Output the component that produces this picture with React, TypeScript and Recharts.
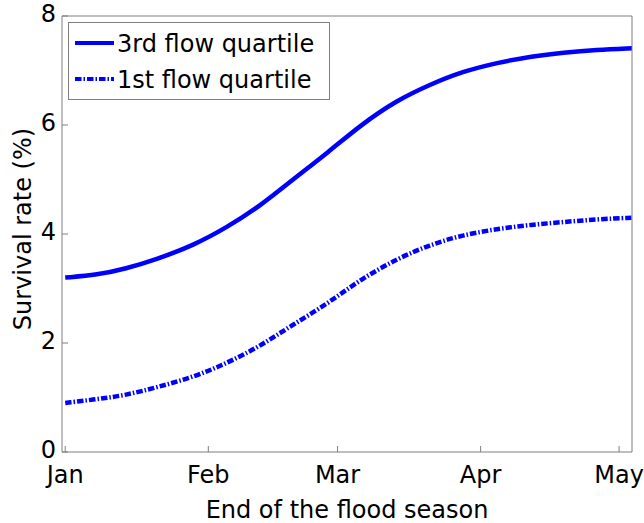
import { LineChart, Line, XAxis, YAxis, Legend } from 'recharts';

// day of year (Jan 1 = 0) at which the flood season ends
const days = [0, 7, 13, 20, 28, 35, 42, 49, 57, 64, 72, 79, 86, 94, 101, 108, 115, 123];
// survival rate (%) for each end date
const thirdQuartile = [3.2, 3.25, 3.36, 3.54, 3.8, 4.12, 4.5, 4.98, 5.5, 6.0, 6.46, 6.74, 6.98, 7.15, 7.26, 7.33, 7.38, 7.41];
const firstQuartile = [0.9, 0.97, 1.04, 1.19, 1.38, 1.63, 1.93, 2.32, 2.73, 3.17, 3.55, 3.8, 3.98, 4.1, 4.17, 4.22, 4.27, 4.3];

const monthTicks = [0, 31, 59, 90, 120];
const monthLabels = ['Jan', 'Feb', 'Mar', 'Apr', 'May'];
const rateTicks = [0, 2, 4, 6, 8];

const series = [
  { key: 'third', name: '3rd flow quartile', dash: undefined as string | undefined },
  { key: 'first', name: '1st flow quartile', dash: '6.5 2 1.5 2' },
];

const data = days.map((d, i) => ({ day: d, third: thirdQuartile[i], first: firstQuartile[i] }));

const BLUE = '#0000ff';
const FRAME = '#7f7f7f';
const FONT = 'DejaVu Sans';
const xDomain = [-0.7, 122.8];

function renderLegend() {
  return (
    <svg width={262} height={78} style={{ display: 'block' }}>
      <rect x={0.5} y={0.5} width={261} height={77} fill="#fff" stroke={FRAME} />
      {series.map((s, i) => (
        <g key={s.key}>
          <line x1={7} x2={46} y1={21 + i * 36} y2={21 + i * 36} stroke={BLUE} strokeWidth={4} strokeDasharray={s.dash} />
          <text x={49} y={30 + i * 36} fontSize={24} fontFamily={FONT} fill="#000">{s.name}</text>
        </g>
      ))}
    </svg>
  );
}

export default function App() {
  return (
    <div style={{ position: 'absolute', left: 0, top: 0, background: '#fff' }}>
      <LineChart width={644} height={523} data={data} margin={{ top: 15, right: 11, bottom: 0, left: 0 }} style={{ fontFamily: FONT }}>
        <XAxis
          xAxisId="bottom"
          dataKey="day"
          type="number"
          domain={xDomain}
          allowDataOverflow
          ticks={monthTicks}
          tickFormatter={(v) => monthLabels[monthTicks.indexOf(v)] ?? ''}
          height={71}
          stroke={FRAME}
          tickSize={-6}
          tickMargin={20}
          tick={{ fill: '#000', fontSize: 24 }}
          label={{ value: 'End of the flood season', position: 'insideBottom', offset: 5, fill: '#000', fontSize: 24 }}
        />
        <XAxis
          xAxisId="top"
          orientation="top"
          dataKey="day"
          type="number"
          domain={xDomain}
          allowDataOverflow
          ticks={monthTicks}
          height={1}
          stroke={FRAME}
          tickSize={-6}
          tick={false}
        />
        <YAxis
          yAxisId="left"
          type="number"
          domain={[0, 8]}
          ticks={rateTicks}
          width={62}
          stroke={FRAME}
          tickSize={-6}
          tickMargin={12}
          tick={{ fill: '#000', fontSize: 24, dy: -3 }}
          label={{
            content: () => (
              <text x={31} y={229} transform="rotate(-90 31 229)" textAnchor="middle" fontSize={24} fontFamily={FONT} fill="#000">
                Survival rate (%)
              </text>
            ),
          }}
        />
        <YAxis
          yAxisId="right"
          orientation="right"
          type="number"
          domain={[0, 8]}
          ticks={rateTicks}
          width={1}
          stroke={FRAME}
          tickSize={-6}
          tick={false}
        />
        <Legend layout="vertical" align="center" verticalAlign="middle" wrapperStyle={{ left: 68, top: 22, width: 262, height: 78 }} content={renderLegend} />
        {series.map((s) => (
          <Line
            key={s.key}
            xAxisId="bottom"
            yAxisId="left"
            dataKey={s.key}
            name={s.name}
            type="basis"
            stroke={BLUE}
            strokeWidth={4.5}
            strokeDasharray={s.dash}
            dot={false}
            activeDot={false}
            isAnimationActive={false}
          />
        ))}
      </LineChart>
    </div>
  );
}
